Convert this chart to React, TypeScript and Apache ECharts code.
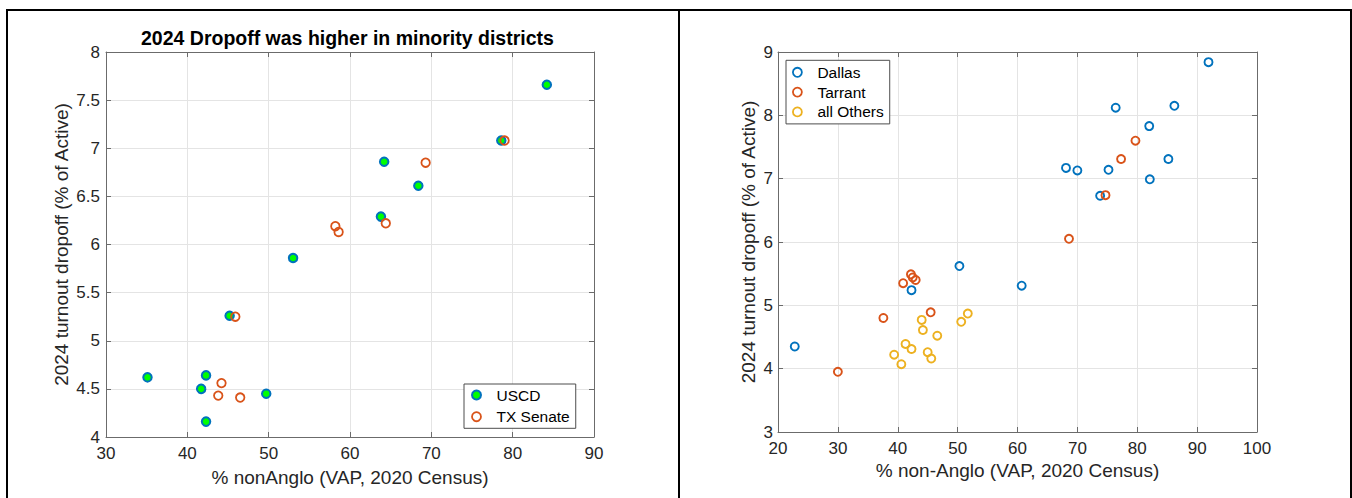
import React, { useEffect, useRef } from "react";
import * as echarts from "echarts";

// ---- Left panel data ----
const leftTitle = "2024 Dropoff was higher in minority districts";
const leftXName = "% nonAnglo (VAP, 2020 Census)";
const leftYName = "2024 turnout dropoff (% of Active)";
const leftSeriesNames = ["USCD", "TX Senate"];
const uscdX = [35.1, 41.7, 42.3, 42.3, 45.2, 49.7, 53.0, 63.8, 64.2, 68.4, 78.6, 84.2];
const uscdY = [4.62, 4.5, 4.64, 4.16, 5.26, 4.45, 5.86, 6.29, 6.86, 6.61, 7.08, 7.66];
const txX = [43.8, 44.2, 45.9, 46.5, 58.2, 58.6, 64.4, 69.3, 79.0];
const txY = [4.43, 4.56, 5.25, 4.41, 6.19, 6.13, 6.22, 6.85, 7.08];

// ---- Right panel data ----
const rightXName = "% non-Anglo (VAP, 2020 Census)";
const rightYName = "2024 turnout dropoff (% of Active)";
const rightSeriesNames = ["Dallas", "Tarrant", "all Others"];
const dallasX = [22.8, 42.3, 50.3, 60.7, 68.1, 70.0, 73.8, 75.2, 76.4, 82.0, 82.1, 85.2, 86.2, 91.9];
const dallasY = [4.35, 5.24, 5.62, 5.31, 7.17, 7.13, 6.73, 7.14, 8.12, 7.83, 6.99, 7.31, 8.15, 8.84];
const tarrantX = [30.0, 37.6, 40.9, 42.2, 42.5, 43.0, 45.5, 68.6, 74.7, 77.3, 79.7];
const tarrantY = [3.95, 4.8, 5.35, 5.49, 5.44, 5.4, 4.89, 6.05, 6.74, 7.31, 7.6];
const othersX = [39.4, 40.6, 41.3, 42.3, 44.0, 44.2, 45.0, 45.6, 46.6, 50.6, 51.7];
const othersY = [4.22, 4.07, 4.39, 4.31, 4.77, 4.61, 4.26, 4.16, 4.52, 4.74, 4.87];

const FONT = "'Liberation Sans', Arial, Helvetica, sans-serif";
const BLUE = "#0072BD";
const ORANGE = "#D95319";
const YELLOW = "#EDB120";
const GREEN = "#00FF00";
const AXIS = "#6b6b6b";
const GRID = "#e4e4e4";
const TXT = "#262626";
const CLEAR = "rgba(0,0,0,0)";

const zip = (xs: number[], ys: number[]) => xs.map((x, i) => [x, ys[i]]);

function mainAxis(grid: number, min: number, max: number, interval: number, name: string, nameGap: number, isY: boolean, margin: number) {
  return {
    type: "value",
    gridIndex: grid,
    min,
    max,
    interval,
    position: isY ? "left" : "bottom",
    name,
    nameLocation: "middle",
    nameGap,
    nameRotate: isY ? 90 : 0,
    nameTextStyle: { fontSize: 19, color: TXT, fontFamily: FONT },
    axisLine: { show: true, onZero: false, lineStyle: { color: AXIS, width: 1 } },
    axisTick: { show: true, inside: true, length: 5, lineStyle: { color: AXIS } },
    axisLabel: { show: true, fontSize: 17, color: TXT, fontFamily: FONT, margin },
    splitLine: { show: true, lineStyle: { color: GRID, width: 1 } },
    minorTick: { show: false },
  };
}

function boxAxis(grid: number, min: number, max: number, interval: number, isY: boolean) {
  return {
    type: "value",
    gridIndex: grid,
    min,
    max,
    interval,
    position: isY ? "right" : "top",
    axisLine: { show: true, onZero: false, lineStyle: { color: AXIS, width: 1 } },
    axisTick: { show: true, inside: true, length: 5, lineStyle: { color: AXIS } },
    axisLabel: { show: false },
    splitLine: { show: false },
  };
}

export default function App() {
  const ref = useRef<HTMLDivElement>(null);
  useEffect(() => {
    if (!ref.current) return;
    const chart = echarts.init(ref.current, null, { renderer: "svg" });
    const option: any = {
      animation: false,
      backgroundColor: "#ffffff",
      textStyle: { fontFamily: FONT },
      title: {
        text: leftTitle,
        left: 141,
        top: 28,
        padding: 0,
        textStyle: { fontSize: 19.5, fontWeight: "bold", color: "#000", fontFamily: FONT },
      },
      grid: [
        { left: 106, top: 52, width: 488, height: 385, containLabel: false, outerBoundsMode: "none" },
        { left: 778, top: 52, width: 479, height: 380, containLabel: false, outerBoundsMode: "none" },
      ],
      xAxis: [
        mainAxis(0, 30, 90, 10, leftXName, 30.5, false, 7.5),
        boxAxis(0, 30, 90, 10, false),
        mainAxis(1, 20, 100, 10, rightXName, 29, false, 7.5),
        boxAxis(1, 20, 100, 10, false),
      ],
      yAxis: [
        mainAxis(0, 4, 8, 0.5, leftYName, 35.5, true, 6),
        boxAxis(0, 4, 8, 0.5, true),
        mainAxis(1, 3, 9, 1, rightYName, 20, true, 5),
        boxAxis(1, 3, 9, 1, true),
      ],
      legend: [
        {
          orient: "vertical",
          left: 464,
          top: 384,
          padding: [3, 6, 3.6, 7],
          itemGap: 5.7,
          itemWidth: 30,
          itemHeight: 9,
          selectedMode: false,
          backgroundColor: "#fff",
          borderColor: "#4d4d4d",
          borderWidth: 1,
          borderRadius: 0,
          textStyle: { fontSize: 15.5, lineHeight: 16, color: "#000", fontFamily: FONT },
          data: [
            { name: leftSeriesNames[0], icon: "circle", itemStyle: { color: GREEN, borderColor: BLUE, borderWidth: 2 } },
            { name: leftSeriesNames[1], icon: "circle", itemStyle: { color: CLEAR, borderColor: ORANGE, borderWidth: 1.8 } },
          ],
        },
        {
          orient: "vertical",
          left: 786,
          top: 60.3,
          padding: [4, 6, 4, 6],
          itemGap: 3.8,
          itemWidth: 30,
          itemHeight: 9,
          selectedMode: false,
          backgroundColor: "#fff",
          borderColor: "#4d4d4d",
          borderWidth: 1,
          borderRadius: 0,
          textStyle: { fontSize: 15.5, lineHeight: 16, color: "#000", fontFamily: FONT },
          data: [
            { name: rightSeriesNames[0], icon: "circle", itemStyle: { color: CLEAR, borderColor: BLUE, borderWidth: 1.8 } },
            { name: rightSeriesNames[1], icon: "circle", itemStyle: { color: CLEAR, borderColor: ORANGE, borderWidth: 1.8 } },
            { name: rightSeriesNames[2], icon: "circle", itemStyle: { color: CLEAR, borderColor: YELLOW, borderWidth: 1.8 } },
          ],
        },
      ],
      series: [
        {
          name: leftSeriesNames[0],
          type: "scatter",
          xAxisIndex: 0,
          yAxisIndex: 0,
          symbol: "circle",
          symbolSize: 8.5,
          itemStyle: { color: GREEN, borderColor: BLUE, borderWidth: 2, opacity: 1 },
          data: zip(uscdX, uscdY),
        },
        {
          name: leftSeriesNames[1],
          type: "scatter",
          xAxisIndex: 0,
          yAxisIndex: 0,
          symbol: "circle",
          symbolSize: 8.5,
          itemStyle: { color: CLEAR, borderColor: ORANGE, borderWidth: 1.8, opacity: 1 },
          data: zip(txX, txY),
        },
        {
          name: rightSeriesNames[0],
          type: "scatter",
          xAxisIndex: 2,
          yAxisIndex: 2,
          symbol: "circle",
          symbolSize: 8,
          itemStyle: { color: CLEAR, borderColor: BLUE, borderWidth: 1.9, opacity: 1 },
          data: zip(dallasX, dallasY),
        },
        {
          name: rightSeriesNames[1],
          type: "scatter",
          xAxisIndex: 2,
          yAxisIndex: 2,
          symbol: "circle",
          symbolSize: 8,
          itemStyle: { color: CLEAR, borderColor: ORANGE, borderWidth: 1.9, opacity: 1 },
          data: zip(tarrantX, tarrantY),
        },
        {
          name: rightSeriesNames[2],
          type: "scatter",
          xAxisIndex: 2,
          yAxisIndex: 2,
          symbol: "circle",
          symbolSize: 8,
          itemStyle: { color: CLEAR, borderColor: YELLOW, borderWidth: 1.9, opacity: 1 },
          data: zip(othersX, othersY),
        },
      ],
      graphic: [
        { type: "rect", shape: { x: 6, y: 9, width: 1346, height: 2 }, style: { fill: "#000" }, silent: true },
        { type: "rect", shape: { x: 6, y: 9, width: 2, height: 489 }, style: { fill: "#000" }, silent: true },
        { type: "rect", shape: { x: 678, y: 9, width: 2, height: 489 }, style: { fill: "#000" }, silent: true },
        { type: "rect", shape: { x: 1350, y: 9, width: 2, height: 489 }, style: { fill: "#000" }, silent: true },
      ],
    };
    chart.setOption(option);
    return () => chart.dispose();
  }, []);
  return (
    <div
      ref={ref}
      style={{ position: "fixed", left: 0, top: 0, width: 1352, height: 498, background: "#fff" }}
    />
  );
}
